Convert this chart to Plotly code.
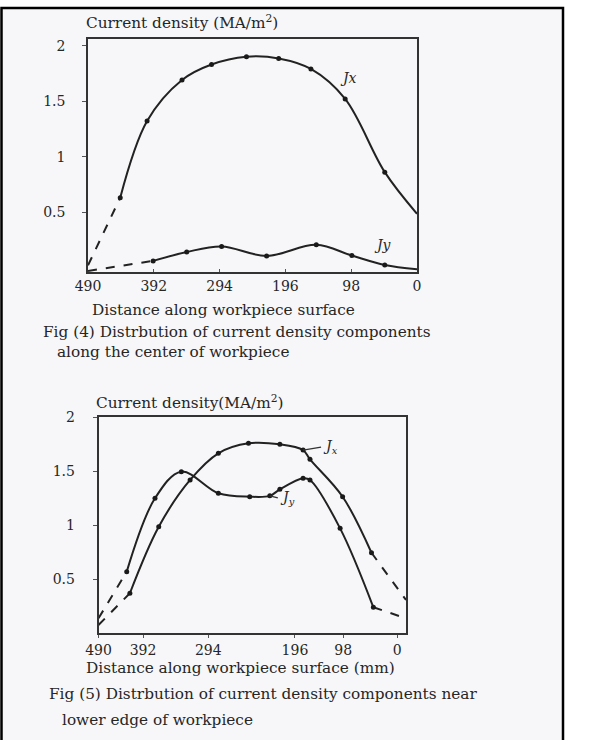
import plotly.graph_objects as go

W, H = 605, 740

# ---------------- Fig (4): along the center of workpiece ----------------
f4_jx_dist = [490, 442, 402, 350, 306, 254, 206, 158, 107, 48, 0]
f4_jx_val = [0.02, 0.63, 1.32, 1.69, 1.83, 1.90, 1.885, 1.79, 1.52, 0.86, 0.485]

f4_jy_dist = [490, 393, 343, 291, 224, 150, 97, 48, 0]
f4_jy_val = [-0.03, 0.06, 0.14, 0.19, 0.105, 0.205, 0.108, 0.024, -0.015]

f4_tick_vals = [490, 392, 294, 196, 98, 0]
f4_tick_text = ["490", "392", "294", "196", "98", "0"]
y_tick_vals = [0.5, 1, 1.5, 2]
y_tick_text = ["0.5", "1", "1.5", "2"]

# ---------------- Fig (5): near lower edge of workpiece ----------------
f5_jx_dist = [490, 440, 394, 344, 299, 251, 201, 164, 153, 101, 55, 0]
f5_jx_val = [0.074, 0.368, 0.984, 1.417, 1.664, 1.756, 1.747, 1.694, 1.608, 1.262, 0.743, 0.306]

f5_jy_dist = [490, 445, 400, 358, 299, 249, 217, 201, 164, 153, 105, 52, 0]
f5_jy_val = [0.136, 0.568, 1.247, 1.494, 1.294, 1.262, 1.27, 1.33, 1.432, 1.417, 0.969, 0.238, 0.136]

# where the printed tick labels sit along the (linear) lower axis
f5_tick_pos = [490, 419, 315, 177, 100, 14]
f5_tick_text = ["490", "392", "294", "196", "98", "0"]

LINE = "#222222"
FONT = "DejaVu Serif"
TXT = "#262626"


def px(x):
    return x / W


def py(y):
    return 1 - y / H


fig = go.Figure()


def add_curve(xs, ys, xa, ya, dash_head, dash_tail):
    n = len(xs)
    s0 = dash_head
    s1 = n - 1 - dash_tail
    if dash_head:
        fig.add_trace(go.Scatter(x=xs[:s0 + 1], y=ys[:s0 + 1], mode="lines",
                                 line=dict(color=LINE, width=2, dash="dash", shape="spline"),
                                 xaxis=xa, yaxis=ya, showlegend=False, hoverinfo="skip"))
    fig.add_trace(go.Scatter(x=xs[s0:s1 + 1], y=ys[s0:s1 + 1], mode="lines",
                             line=dict(color=LINE, width=2, shape="spline", smoothing=1.0),
                             xaxis=xa, yaxis=ya, showlegend=False, hoverinfo="skip"))
    if dash_tail:
        fig.add_trace(go.Scatter(x=xs[s1:], y=ys[s1:], mode="lines",
                                 line=dict(color=LINE, width=2, dash="dash", shape="spline"),
                                 xaxis=xa, yaxis=ya, showlegend=False, hoverinfo="skip"))
    fig.add_trace(go.Scatter(x=xs[1:-1], y=ys[1:-1], mode="markers",
                             marker=dict(color="#1a1a1a", size=5),
                             xaxis=xa, yaxis=ya, showlegend=False, hoverinfo="skip"))


add_curve(f4_jx_dist, f4_jx_val, "x", "y", 1, 0)
add_curve(f4_jy_dist, f4_jy_val, "x", "y", 1, 0)
add_curve(f5_jx_dist, f5_jx_val, "x2", "y2", 1, 1)
add_curve(f5_jy_dist, f5_jy_val, "x2", "y2", 1, 1)

axis_common = dict(showgrid=False, zeroline=False, showline=True, mirror=True,
                   linecolor="#333", linewidth=1.5,
                   tickcolor="#555", tickfont=dict(family=FONT, size=14, color=TXT))

fig.update_layout(
    width=W, height=H, margin=dict(l=0, r=0, t=0, b=0, pad=0, autoexpand=False),
    paper_bgcolor="white", plot_bgcolor="rgba(0,0,0,0)",
    xaxis=dict(domain=[px(88), px(417)], range=[490, 0], anchor="y", ticks="inside", ticklen=3,
               tickvals=f4_tick_vals, ticktext=f4_tick_text, ticklabelstandoff=0, **axis_common),
    yaxis=dict(domain=[py(272), py(39)], range=[-0.04, 2.06], anchor="x", ticks="outside", ticklen=4,
               tickvals=y_tick_vals, ticktext=y_tick_text, ticklabelstandoff=14, **axis_common),
    xaxis2=dict(domain=[px(98.5), px(406)], range=[490, 0], anchor="y2", ticks="outside", ticklen=3,
                tickvals=f5_tick_pos, ticktext=f5_tick_text, ticklabelstandoff=0, **axis_common),
    yaxis2=dict(domain=[py(633), py(417)], range=[0, 2], anchor="x2", ticks="outside", ticklen=4,
                tickvals=y_tick_vals, ticktext=y_tick_text, ticklabelstandoff=15, **axis_common),
)

# page frame (scan border)
fig.add_shape(type="rect", xref="paper", yref="paper", x0=px(1.5), x1=px(563), y0=py(745), y1=py(8),
              line=dict(color="#000", width=2.5), fillcolor="#f7f7f9", layer="below")

ann = []
CAP = 15.3


def text(x, y, s, size=CAP, anchor="left"):
    ann.append(dict(x=px(x), y=py(y), xref="paper", yref="paper", text=s, showarrow=False,
                    xanchor=anchor, yanchor="middle",
                    font=dict(family=FONT, size=size, color=TXT)))


text(84, 22, "Current density (MA/m<sup>2</sup>)")
text(223, 310, "Distance along workpiece surface", anchor="center")
text(41, 332, "Fig (4) Distrbution of current density components")
text(55, 352, "along the center of workpiece")
text(94, 402, "Current density(MA/m<sup>2</sup>)")
text(240, 668, "Distance along workpiece surface (mm)", anchor="center")
text(47, 694, "Fig (5) Distrbution of current density components near")
text(60, 720, "lower edge of workpiece")

# curve labels
ann.append(dict(x=102, y=1.71, xref="x", yref="y", text="<i>Jx</i>", showarrow=False,
                font=dict(family=FONT, size=14, color=TXT)))
ann.append(dict(x=50, y=0.2, xref="x", yref="y", text="<i>Jy</i>", showarrow=False,
                font=dict(family=FONT, size=14, color=TXT)))
ann.append(dict(x=f5_jx_dist[7], y=f5_jx_val[7], xref="x2", yref="y2", text="<i>J<sub>x</sub></i>",
                showarrow=True, arrowhead=0, arrowwidth=1.3, arrowcolor="#333",
                ax=18, ay=-3, xanchor="left",
                font=dict(family=FONT, size=14, color=TXT)))
ann.append(dict(x=f5_jy_dist[6], y=f5_jy_val[6], xref="x2", yref="y2", text="<i>J<sub>y</sub></i>",
                showarrow=True, arrowhead=0, arrowwidth=1.3, arrowcolor="#333",
                ax=8, ay=2, xanchor="left",
                font=dict(family=FONT, size=14, color=TXT)))

fig.update_layout(annotations=ann)

fig.write_html("out.html", config={"displayModeBar": False},
               post_script="document.body.style.margin='0';document.body.style.overflow='hidden';")
